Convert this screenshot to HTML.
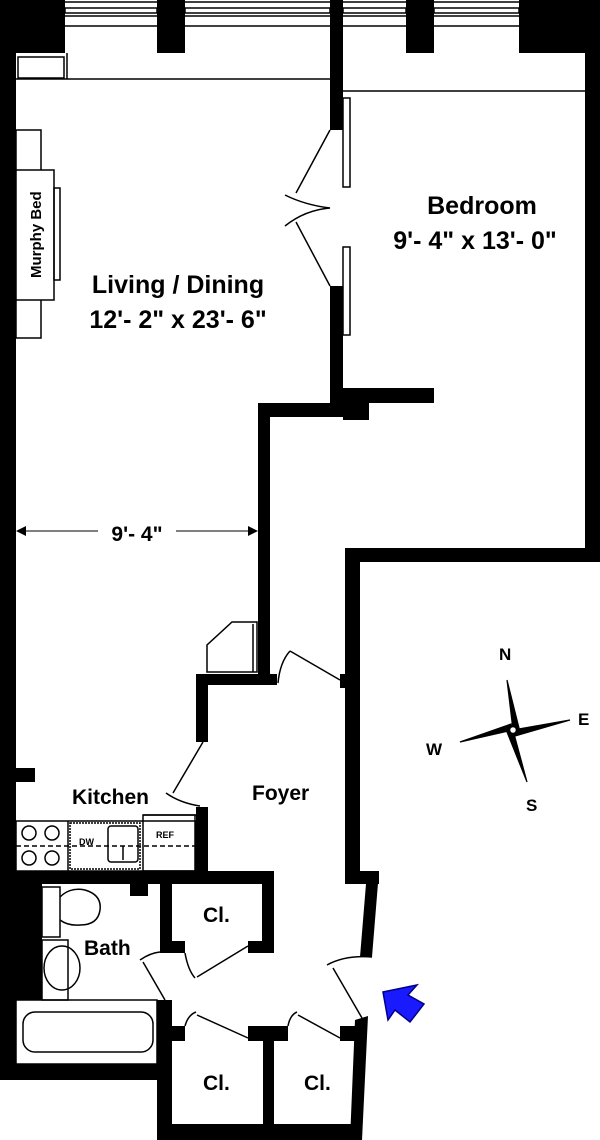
<!DOCTYPE html>
<html><head><style>
html,body{margin:0;padding:0;background:#fff;width:600px;height:1140px;overflow:hidden}
svg{display:block}
text{font-family:"Liberation Sans",Arial,sans-serif;font-weight:bold;fill:#000}
</style></head><body>
<svg width="600" height="1140" viewBox="0 0 600 1140" xmlns="http://www.w3.org/2000/svg">
<rect width="600" height="1140" fill="#fff"/>
<g fill="#000">
<!-- top walls / pillars -->
<rect x="0" y="0" width="65" height="53"/>
<rect x="0" y="0" width="16" height="1080"/>
<rect x="157" y="0" width="28" height="53"/>
<rect x="406" y="0" width="28" height="53"/>
<rect x="519" y="0" width="81" height="53"/>
<rect x="585" y="0" width="15" height="560"/>
<rect x="330" y="0" width="13" height="130"/>
<rect x="330" y="286" width="13" height="117"/>
<rect x="343" y="388" width="91" height="15"/>
<rect x="343" y="400" width="26" height="20"/>
<rect x="258" y="403" width="85" height="14"/>
<rect x="258" y="403" width="12" height="281"/>
<rect x="196" y="674" width="81" height="11"/>
<rect x="196" y="674" width="12" height="68"/>
<rect x="345" y="548" width="255" height="14"/>
<rect x="345" y="548" width="15" height="336"/>
<rect x="340" y="674" width="12" height="14"/>
<rect x="16" y="768" width="19" height="14"/>
<rect x="196" y="807" width="12" height="64"/>
<rect x="0" y="871" width="274" height="13"/>
<rect x="0" y="884" width="42" height="116"/>
<rect x="130" y="884" width="18" height="12"/>
<rect x="0" y="1064" width="172" height="16"/>
<rect x="160" y="884" width="12" height="69"/>
<rect x="262" y="884" width="12" height="69"/>
<rect x="160" y="941" width="25" height="12"/>
<rect x="248" y="941" width="26" height="12"/>
<rect x="157" y="1000" width="15" height="140"/>
<rect x="157" y="1124" width="205" height="16"/>
<rect x="263" y="1026" width="11" height="98"/>
<rect x="248" y="1026" width="40" height="15"/>
<rect x="172" y="1026" width="13" height="15"/>
<rect x="340" y="1026" width="18" height="15"/>
<polygon points="355,1020 368,1016 362,1140 350,1140"/>
<rect x="345" y="871" width="34" height="13"/>
<polygon points="366,884 379,871 372,957 360,957"/>
</g>
<!-- top window lines -->
<g fill="none" stroke="#000" stroke-width="1.5">
<line x1="65" y1="2" x2="585" y2="2"/>
<rect x="65" y="8" width="92" height="5"/>
<rect x="185" y="8" width="145" height="5"/>
<rect x="343" y="8" width="63" height="5"/>
<rect x="434" y="8" width="85" height="5"/>
<line x1="65" y1="16" x2="585" y2="16"/>
<line x1="65" y1="26" x2="585" y2="26"/>
<line x1="16" y1="79" x2="330" y2="79"/>
<line x1="343" y1="91" x2="585" y2="91"/>
<rect x="18" y="57" width="46" height="21"/>
<line x1="67" y1="53" x2="67" y2="79"/>
<!-- murphy bed -->
<rect x="16" y="130" width="25" height="208"/>
<rect x="16" y="170" width="38" height="130" fill="#fff"/>
<rect x="54" y="188" width="6" height="92"/>
<!-- bedroom panels -->
<rect x="343" y="98" width="7" height="89" fill="#fff"/>
<rect x="343" y="247" width="7" height="88" fill="#fff"/>
<!-- double door -->
<line x1="330" y1="130" x2="296" y2="193"/>
<line x1="296" y1="222" x2="330" y2="286"/>
<path d="M285,195 Q305,205 330,208 Q305,210 285,226"/>
<!-- living closet -->
<polygon points="207,672 207,645 232,622 257,622 257,672"/>
<line x1="253" y1="624" x2="253" y2="672"/>
<!-- foyer door top -->
<path d="M278,683 Q280,662 290,651"/>
<line x1="290" y1="651" x2="340" y2="680"/>
<!-- kitchen door -->
<line x1="203" y1="742" x2="173" y2="793"/>
<path d="M166,793 Q180,803 200,806"/>
<!-- counter -->
<rect x="16" y="821" width="180" height="50"/>
<line x1="143" y1="815" x2="196" y2="815"/>
<rect x="143" y="815" width="52" height="56"/>
<line x1="68" y1="821" x2="68" y2="871"/>
<rect x="70" y="823" width="70" height="46" stroke-dasharray="2,1"/>
<line x1="16" y1="846" x2="196" y2="846" stroke-dasharray="5,3"/>
<rect x="108" y="826" width="30" height="36" rx="3"/>
<line x1="123" y1="846" x2="123" y2="860"/>
<circle cx="29" cy="833" r="7"/><circle cx="52" cy="833" r="7"/>
<circle cx="29" cy="858" r="7"/><circle cx="52" cy="858" r="7"/>
<!-- bath fixtures -->
<rect x="42" y="887" width="18" height="50"/>
<path d="M60,897 Q70,887 85,890 Q102,895 100,910 Q98,925 80,925 Q68,926 60,920"/>
<rect x="42" y="940" width="26" height="60"/>
<ellipse cx="62" cy="968" rx="18" ry="22"/>
<rect x="16" y="1000" width="141" height="64"/>
<rect x="23" y="1012" width="130" height="40" rx="12"/>
<!-- bath door -->
<path d="M140,960 Q150,953 160,952"/>
<line x1="143" y1="962" x2="165" y2="1000"/>
<!-- closet doors -->
<path d="M185,953 Q188,970 195,978"/>
<line x1="197" y1="977" x2="248" y2="946"/>
<path d="M185,1026 Q188,1015 196,1012"/>
<line x1="197" y1="1015" x2="248" y2="1038"/>
<path d="M288,1026 Q290,1015 297,1012"/>
<line x1="298" y1="1015" x2="340" y2="1038"/>
<!-- entry door -->
<path d="M327,965 Q345,955 372,957"/>
<line x1="333" y1="968" x2="362" y2="1018"/>
<!-- dimension -->
<line x1="18" y1="531" x2="256" y2="531" stroke-width="1"/>
</g>
<polygon points="16,531 26,526 26,536" fill="#000"/>
<polygon points="258,531 248,526 248,536" fill="#000"/>
<rect x="98" y="518" width="78" height="26" fill="#fff"/>
<text x="137" y="541" font-size="21" text-anchor="middle">9'- 4"</text>
<!-- compass -->
<g fill="#000" stroke="#000" stroke-width="1.2">
<polygon points="513,730 507,680 519,728" />
<polygon points="513,730 527,782 507,732" />
<polygon points="513,730 570,720 515,736" />
<polygon points="513,730 460,742 511,724" />
</g>
<circle cx="513" cy="730" r="3.5" fill="#fff" stroke="#000" stroke-width="1.5"/>
<text x="499" y="660" font-size="17">N</text>
<text x="578" y="725" font-size="17">E</text>
<text x="526" y="811" font-size="17">S</text>
<text x="426" y="755" font-size="17">W</text>
<!-- blue arrow -->
<polygon points="383,992 388,1020 395,1010 410,1022 424,1004 408,995 417,985" fill="#1a1aff" stroke="#00008b" stroke-width="1.5"/>
<!-- labels -->
<text x="482" y="214" font-size="25" text-anchor="middle">Bedroom</text>
<text x="475" y="249" font-size="25" text-anchor="middle">9'- 4" x 13'- 0"</text>
<text x="178" y="293" font-size="25" text-anchor="middle">Living / Dining</text>
<text x="178" y="328" font-size="25" text-anchor="middle">12'- 2" x 23'- 6"</text>
<text x="0" y="0" font-size="15" transform="translate(41,278) rotate(-90)">Murphy Bed</text>
<text x="72" y="804" font-size="21">Kitchen</text>
<text x="252" y="800" font-size="21">Foyer</text>
<text x="84" y="955" font-size="21">Bath</text>
<text x="203" y="922" font-size="21">Cl.</text>
<text x="203" y="1090" font-size="21">Cl.</text>
<text x="304" y="1090" font-size="21">Cl.</text>
<text x="79" y="845" font-size="9">DW</text>
<text x="156" y="838" font-size="9">REF</text>
</svg>
</body></html>
